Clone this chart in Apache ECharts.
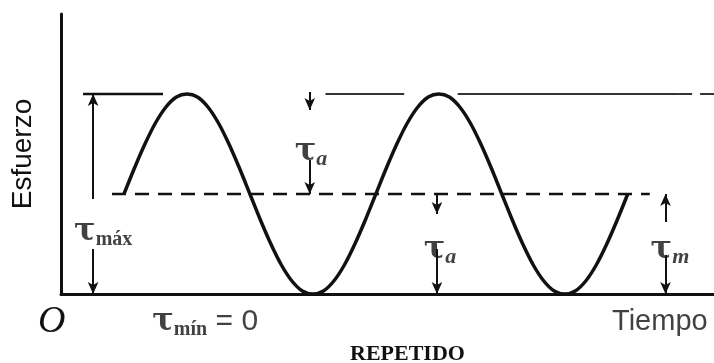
<!DOCTYPE html>
<html>
<head>
<meta charset="utf-8">
<script src="https://cdn.jsdelivr.net/npm/echarts@6/dist/echarts.min.js"></script>
<style>
  html, body { margin: 0; padding: 0; background: #fff; }
  #chart { width: 714px; height: 363px; }
</style>
</head>
<body>
<div id="chart"></div>
<script>
// Repeated stress cycle: tau oscillates between tau_min = 0 and tau_max
// (stress units: tau_m = 1, tau_a = 1, tau_max = 2; one cycle = 4 time units)
const cycleTime = [
  1, 1.167, 1.333, 1.5, 1.667, 1.833, 2, 2.167, 2.333, 2.5, 2.667, 2.833,
  3, 3.167, 3.333, 3.5, 3.667, 3.833, 4, 4.167, 4.333, 4.5, 4.667, 4.833,
  5, 5.167, 5.333, 5.5, 5.667, 5.833, 6, 6.167, 6.333, 6.5, 6.667, 6.833,
  7, 7.167, 7.333, 7.5, 7.667, 7.833, 8, 8.167, 8.333, 8.5, 8.667, 8.833, 9
];
const cycleStress = [
  1, 1.26, 1.5, 1.71, 1.87, 1.97, 2, 1.97, 1.87, 1.71, 1.5, 1.26,
  1, 0.74, 0.5, 0.29, 0.13, 0.03, 0, 0.03, 0.13, 0.29, 0.5, 0.74,
  1, 1.26, 1.5, 1.71, 1.87, 1.97, 2, 1.97, 1.87, 1.71, 1.5, 1.26,
  1, 0.74, 0.5, 0.29, 0.13, 0.03, 0, 0.03, 0.13, 0.29, 0.5, 0.74, 1
];

const tauMax = 2;
const tauMean = 1;

// reference levels: [fromTime, toTime]
const meanLevelSpan = [0.81, 9.35];
const maxLevelSolid = [[0.35, 1.62], [4.2, 5.45], [6.3, 9.8]];
const maxLevelDashed = [9.8, 10.37];

// dimension arrows: [time, fromStress, toStress] (arrow head at toStress)
const dimArrows = [
  [0.51, 0.95, 2], [0.51, 0.45, 0],          // tau_max
  [3.95, 2.02, 1.84], [3.95, 1.34, 1.0],     // tau_a (upper)
  [5.97, 1.0, 0.8], [5.97, 0.45, 0],         // tau_a (lower)
  [9.6, 0.72, 1.0], [9.6, 0.39, 0]           // tau_m
];

// annotations: [time, stress, symbol, subscript, subscript style, trailing text]
const tauLabels = [
  [0.67, 0.62, 'τ', 'máx', 'up', ''],
  [3.97, 1.42, 'τ', 'a', 'it', ''],
  [6.02, 0.44, 'τ', 'a', 'it', ''],
  [9.67, 0.44, 'τ', 'm', 'it', ''],
  [2.29, -0.28, 'τ', 'mín', 'up', ' = 0']
];

const xAxisName = 'Tiempo';
const yAxisName = 'Esfuerzo';
const originLabel = 'O';
const caption = 'REPETIDO';

const chart = echarts.init(document.getElementById('chart'));

const ink = '#111';

const levelSeries = [];
levelSeries.push({
  type: 'line', silent: true, symbol: 'none',
  data: [[meanLevelSpan[0], tauMean], [meanLevelSpan[1], tauMean]],
  lineStyle: { color: ink, width: 2.5, type: [14, 9] }
});
maxLevelSolid.forEach(function (s, i) {
  levelSeries.push({
    type: 'line', silent: true, symbol: 'none',
    data: [[s[0], tauMax], [s[1], tauMax]],
    lineStyle: { color: i === 0 ? ink : '#333', width: i === 0 ? 2.5 : 2 }
  });
});
levelSeries.push({
  type: 'line', silent: true, symbol: 'none',
  data: [[maxLevelDashed[0], tauMax], [maxLevelDashed[1], tauMax]],
  lineStyle: { color: '#333', width: 2, type: [14, 8] }
});

const arrowLines = dimArrows.map(function (a) {
  return [
    { coord: [a[0], a[1]], symbol: 'none' },
    { coord: [a[0], a[2]], symbol: 'arrow' }
  ];
});

const labelData = tauLabels.map(function (l) {
  return { value: [l[0], l[1]], sym: l[2], sub: l[3], subStyle: l[4], tail: l[5] };
});

chart.setOption({
  animation: false,
  backgroundColor: '#fff',
  title: {
    text: caption,
    left: 345, top: 338,
    textStyle: { fontFamily: 'Liberation Serif', fontWeight: 'bold', fontSize: 22, color: ink }
  },
  graphic: [{
    type: 'text', left: 38, top: 303,
    style: { text: originLabel, fontFamily: 'Liberation Serif', fontStyle: 'italic', fontSize: 38, fill: ink }
  }],
  grid: { left: 61, right: 0, top: 14, bottom: 69 },
  xAxis: {
    type: 'value', min: 0, max: 10.37,
    axisLine: { show: true, lineStyle: { color: ink, width: 3 } },
    axisTick: { show: false }, axisLabel: { show: false }, splitLine: { show: false }
  },
  yAxis: {
    type: 'value', min: 0, max: 2.8,
    name: yAxisName, nameLocation: 'middle', nameGap: 24, nameRotate: 90,
    nameTextStyle: { fontFamily: 'Liberation Sans', fontSize: 28, color: ink },
    axisLine: { show: true, lineStyle: { color: ink, width: 3 } },
    axisTick: { show: false }, axisLabel: { show: false }, splitLine: { show: false }
  },
  series: levelSeries.concat([
    {
      type: 'line', silent: true, symbol: 'none', smooth: 0.3,
      data: cycleTime.map(function (t, i) { return [t, cycleStress[i]]; }),
      lineStyle: { color: ink, width: 3.5 }, z: 5
    },
    {
      type: 'line', silent: true, data: [],
      markLine: {
        silent: true, symbolSize: [8, 12], animation: false,
        label: { show: false },
        lineStyle: { color: ink, width: 2, type: 'solid' },
        data: arrowLines
      }
    },
    {
      type: 'scatter', silent: true, clip: false, symbolSize: 1,
      itemStyle: { color: 'rgba(0,0,0,0)' },
      data: labelData,
      label: {
        show: true, position: 'inside', color: ink,
        formatter: function (p) {
          const d = p.data;
          const subKey = d.subStyle === 'it' ? 'subIt' : 'subUp';
          let s = '{t|' + d.sym + '}{' + subKey + '|' + d.sub + '}';
          if (d.tail) s += '{tail|' + d.tail + '}';
          return s;
        },
        rich: {
          t: { fontFamily: 'DejaVu Serif', fontWeight: 'bold', fontSize: 32, color: ink, lineHeight: 36, verticalAlign: 'middle' },
          subUp: { fontFamily: 'Liberation Serif', fontWeight: 'bold', fontSize: 20, color: ink, lineHeight: 36, verticalAlign: 'bottom' },
          subIt: { fontFamily: 'Liberation Serif', fontWeight: 'bold', fontStyle: 'italic', fontSize: 22, color: ink, lineHeight: 36, verticalAlign: 'bottom' },
          tail: { fontFamily: 'Liberation Sans', fontSize: 30, color: ink, lineHeight: 36, verticalAlign: 'middle' }
        }
      }
    },
    {
      type: 'scatter', silent: true, clip: false, symbolSize: 1,
      itemStyle: { color: 'rgba(0,0,0,0)' },
      data: [[9.51, -0.28]],
      label: {
        show: true, position: 'inside', formatter: xAxisName,
        fontFamily: 'Liberation Sans', fontSize: 29, color: ink
      }
    }
  ])
});
</script>
</body>
</html>
